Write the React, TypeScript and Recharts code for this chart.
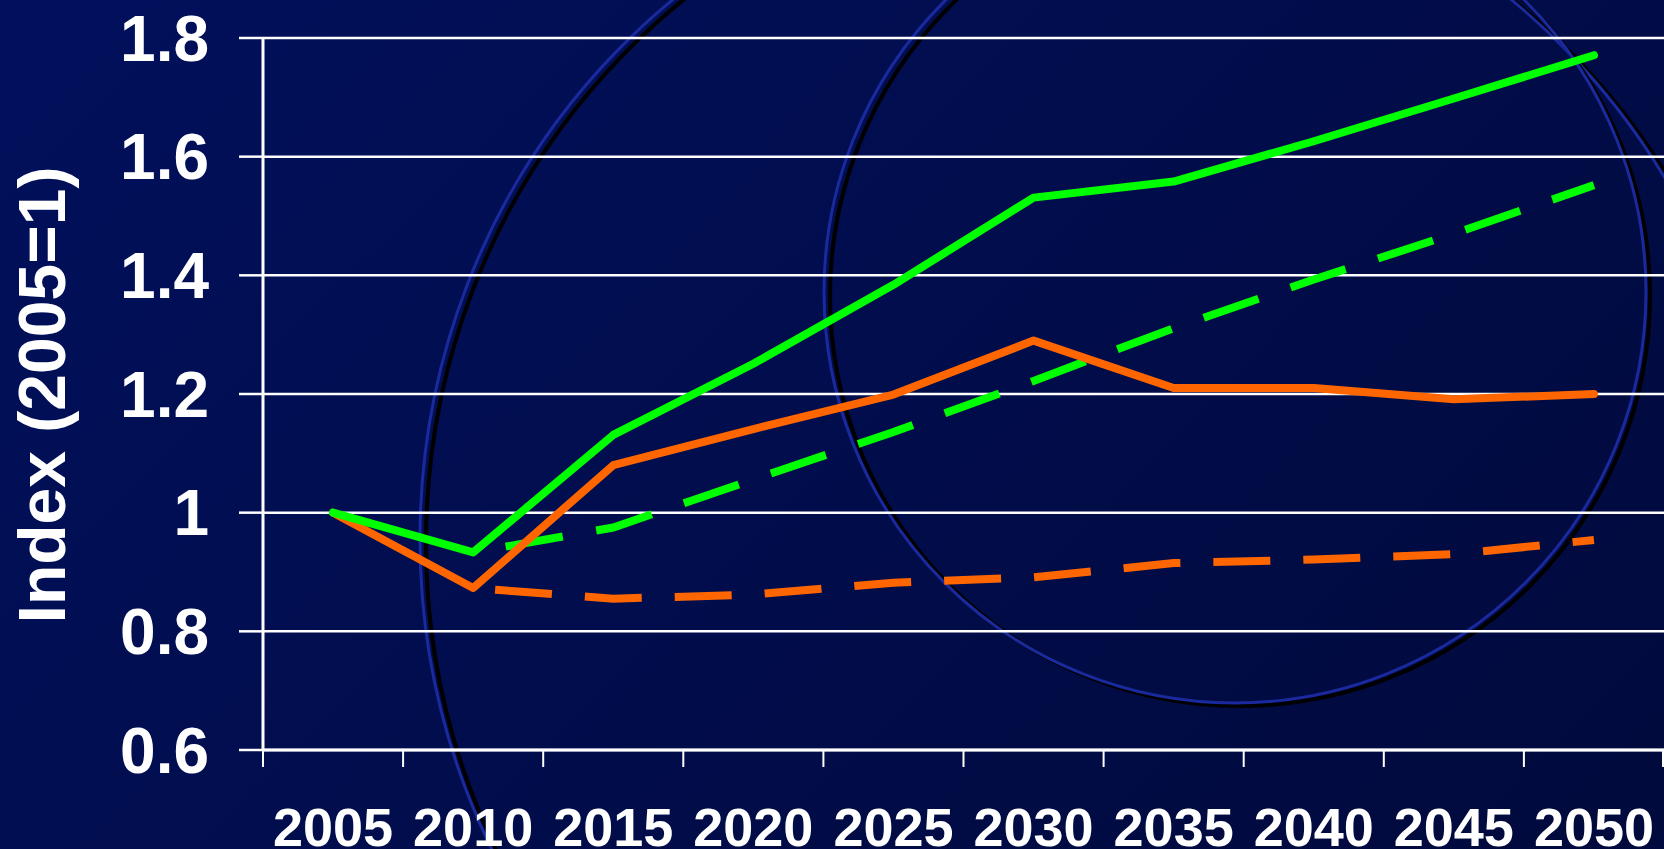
import React from 'react';
import { LineChart, Line, XAxis, YAxis, CartesianGrid } from 'recharts';

const years = ['2005', '2010', '2015', '2020', '2025', '2030', '2035', '2040', '2045', '2050'];
const greenSolid = [1.0, 0.933, 1.131, 1.251, 1.384, 1.531, 1.558, 1.626, 1.698, 1.771];
const orangeSolid = [1.0, 0.873, 1.08, 1.141, 1.199, 1.29, 1.21, 1.21, 1.191, 1.2];
const greenDashed = [null, 0.933, 0.975, 1.056, 1.136, 1.222, 1.311, 1.393, 1.47, 1.552];
const orangeDashed = [null, 0.873, 0.855, 0.862, 0.882, 0.891, 0.915, 0.921, 0.93, 0.954];
const yTicks = [0.6, 0.8, 1, 1.2, 1.4, 1.6, 1.8];
const yTitle = 'Index (2005=1)';

const data = years.map((year, i) => ({
  year,
  greenSolid: greenSolid[i],
  orangeSolid: orangeSolid[i],
  greenDashed: greenDashed[i],
  orangeDashed: orangeDashed[i],
}));

const W = 1664;
const H = 849;
const PLOT_LEFT = 263;
const PLOT_TOP = 38;
const PLOT_BOTTOM = 750;
const PLOT_W = W - PLOT_LEFT;
const FONT = "'Liberation Sans', Arial, Helvetica, sans-serif";
const GREEN = '#00ff00';
const ORANGE = '#ff6600';

const XTick = (props: any) => {
  const { x, y, payload, index } = props;
  const bw = PLOT_W / years.length;
  const left = x - bw / 2;
  const right = Math.min(x + bw / 2, W - 1);
  return (
    <g>
      <line x1={left} y1={PLOT_BOTTOM} x2={left} y2={PLOT_BOTTOM + 17} stroke="#ffffff" strokeWidth={2} />
      {index === years.length - 1 && (
        <line x1={right} y1={PLOT_BOTTOM} x2={right} y2={PLOT_BOTTOM + 17} stroke="#ffffff" strokeWidth={2} />
      )}
      <text
        x={x}
        y={y}
        dy="0.71em"
        textAnchor="middle"
        fill="#ffffff"
        fontSize={54}
        fontWeight="bold"
        fontFamily={FONT}
      >
        {payload.value}
      </text>
    </g>
  );
};

const YTitle = () => (
  <text
    x={65}
    y={395}
    transform="rotate(-90 65 395)"
    textAnchor="middle"
    fill="#ffffff"
    fontSize={66}
    fontWeight="bold"
    fontFamily={FONT}
  >
    {yTitle}
  </text>
);

export default function App() {
  return (
    <div
      style={{
        position: 'absolute',
        left: 0,
        top: 0,
        width: W,
        height: H,
        overflow: 'hidden',
        background: 'linear-gradient(135deg, #01105c 0%, #010d4c 50%, #010a3c 100%)',
      }}
    >
      <svg width={W} height={H} style={{ position: 'absolute', left: 0, top: 0 }}>
        <ellipse cx={1098} cy={543} rx={672} ry={690} fill="none" stroke="#000000" strokeWidth={4} />
        <ellipse cx={1092} cy={539} rx={672} ry={690} fill="none" stroke="#1a2a9e" strokeWidth={3} />
        <circle cx={1240} cy={296} r={410} fill="none" stroke="#000000" strokeWidth={4} />
        <circle cx={1235} cy={292} r={411} fill="none" stroke="#1a2a9e" strokeWidth={3} />
      </svg>
      <div style={{ position: 'absolute', left: 0, top: 0 }}>
        <LineChart
          width={W}
          height={H}
          data={data}
          margin={{ top: PLOT_TOP, right: 0, bottom: 0, left: 0 }}
        >
          <CartesianGrid vertical={false} stroke="#ffffff" strokeWidth={2.5} />
          <XAxis
            dataKey="year"
            scale="band"
            height={H - PLOT_BOTTOM}
            axisLine={{ stroke: '#ffffff', strokeWidth: 3 }}
            tickLine={false}
            tickSize={17}
            tickMargin={41}
            interval={0}
            tick={<XTick />}
          />
          <YAxis
            width={PLOT_LEFT}
            domain={[0.6, 1.8]}
            ticks={yTicks}
            interval={0}
            tickFormatter={(v: number) => String(v)}
            axisLine={{ stroke: '#ffffff', strokeWidth: 3 }}
            tickLine={{ stroke: '#ffffff', strokeWidth: 2.5 }}
            tickSize={24}
            tickMargin={30}
            tick={{ fill: '#ffffff', fontSize: 64, fontWeight: 'bold', fontFamily: FONT }}
            label={<YTitle />}
          />
          <Line
            dataKey="orangeDashed"
            stroke={ORANGE}
            strokeWidth={8}
            strokeDasharray="57 33"
            strokeDashoffset={68}
            strokeLinecap="butt"
            dot={false}
            activeDot={false}
            connectNulls={false}
            isAnimationActive={false}
          />
          <Line
            dataKey="greenDashed"
            stroke={GREEN}
            strokeWidth={8}
            strokeDasharray="58 34"
            strokeDashoffset={59}
            strokeLinecap="butt"
            dot={false}
            activeDot={false}
            isAnimationActive={false}
          />
          <Line
            dataKey="orangeSolid"
            stroke={ORANGE}
            strokeWidth={8}
            strokeLinecap="round"
            strokeLinejoin="round"
            dot={false}
            activeDot={false}
            isAnimationActive={false}
          />
          <Line
            dataKey="greenSolid"
            stroke={GREEN}
            strokeWidth={8}
            strokeLinecap="round"
            strokeLinejoin="round"
            dot={false}
            activeDot={false}
            isAnimationActive={false}
          />
        </LineChart>
      </div>
    </div>
  );
}
